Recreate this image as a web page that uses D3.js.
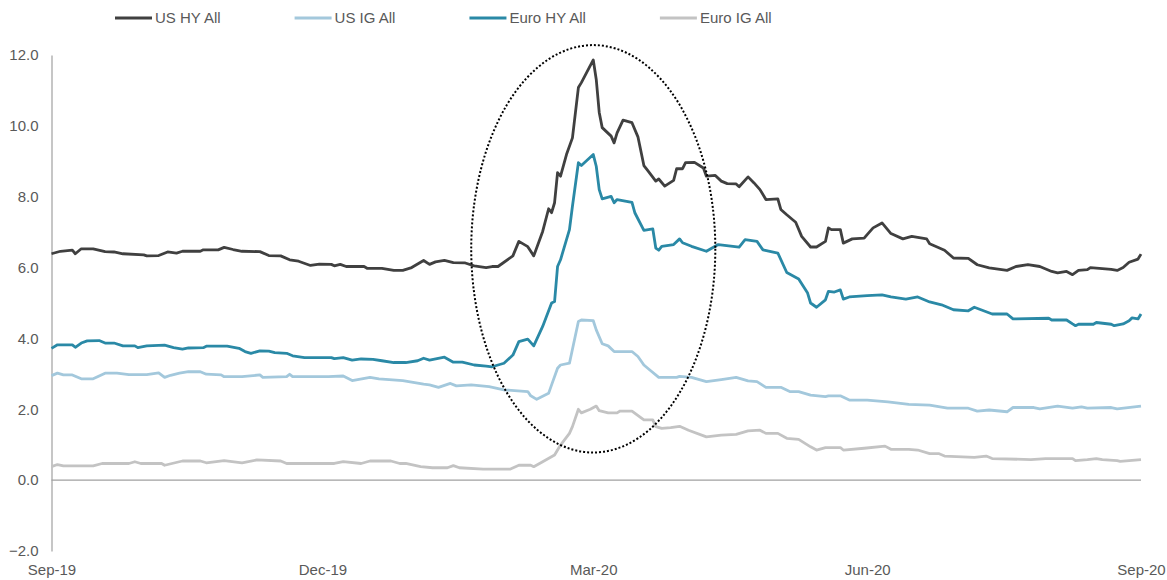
<!DOCTYPE html>
<html>
<head>
<meta charset="utf-8">
<script src="https://cdn.jsdelivr.net/npm/d3@7"></script>
<style>
  body { margin: 0; background: #fff; }
  text { font-family: "Liberation Sans", Arial, sans-serif; }
</style>
</head>
<body>
<div id="spread-vis"></div>
<script>
// spreads (%)
var usHY = [
  ["2019-09-01",6.39],["2019-09-04",6.46],["2019-09-08",6.49],["2019-09-09",6.39],["2019-09-11",6.53],
  ["2019-09-15",6.53],["2019-09-19",6.45],["2019-09-22",6.44],["2019-09-25",6.39],["2019-10-02",6.36],
  ["2019-10-03",6.33],["2019-10-07",6.34],["2019-10-10",6.44],["2019-10-13",6.41],["2019-10-15",6.46],
  ["2019-10-21",6.46],["2019-10-22",6.5],["2019-10-27",6.5],["2019-10-29",6.57],["2019-11-01",6.51],
  ["2019-11-04",6.46],["2019-11-10",6.45],["2019-11-13",6.34],["2019-11-17",6.33],["2019-11-20",6.22],
  ["2019-11-23",6.18],["2019-11-27",6.06],["2019-11-30",6.1],["2019-12-04",6.09],["2019-12-05",6.05],
  ["2019-12-07",6.09],["2019-12-09",6.03],["2019-12-15",6.03],["2019-12-16",5.98],["2019-12-21",5.98],
  ["2019-12-25",5.92],["2019-12-28",5.92],["2019-12-31",6.0],["2020-01-04",6.2],["2020-01-06",6.09],
  ["2020-01-08",6.16],["2020-01-11",6.2],["2020-01-14",6.14],["2020-01-18",6.13],["2020-01-21",6.05],
  ["2020-01-25",6.0],["2020-01-27",6.03],["2020-01-29",6.03],["2020-02-03",6.33],["2020-02-05",6.74],
  ["2020-02-08",6.59],["2020-02-10",6.33],["2020-02-13",7.02],["2020-02-15",7.66],["2020-02-16",7.55],
  ["2020-02-17",7.83],["2020-02-18",8.68],["2020-02-19",8.58],["2020-02-21",9.19],["2020-02-23",9.66],
  ["2020-02-25",11.08],["2020-02-26",11.22],["2020-03-01",11.86],["2020-03-02",11.31],["2020-03-03",10.38],
  ["2020-03-04",9.95],["2020-03-07",9.71],["2020-03-08",9.52],["2020-03-09",9.8],["2020-03-11",10.16],
  ["2020-03-14",10.09],["2020-03-16",9.69],["2020-03-18",8.88],["2020-03-19",8.77],["2020-03-22",8.44],
  ["2020-03-23",8.5],["2020-03-25",8.3],["2020-03-28",8.46],["2020-03-29",8.79],["2020-03-31",8.79],
  ["2020-04-01",8.96],["2020-04-04",8.97],["2020-04-07",8.81],["2020-04-08",8.58],["2020-04-11",8.6],
  ["2020-04-13",8.44],["2020-04-15",8.37],["2020-04-18",8.36],["2020-04-19",8.28],["2020-04-22",8.56],
  ["2020-04-24",8.39],["2020-04-26",8.2],["2020-04-28",7.92],["2020-05-02",7.94],["2020-05-03",7.64],
  ["2020-05-05",7.49],["2020-05-08",7.28],["2020-05-10",6.88],["2020-05-13",6.58],["2020-05-15",6.58],
  ["2020-05-18",6.74],["2020-05-19",7.12],["2020-05-20",7.07],["2020-05-23",7.07],["2020-05-24",6.69],
  ["2020-05-27",6.81],["2020-05-31",6.83],["2020-06-01",6.93],["2020-06-03",7.12],["2020-06-06",7.26],
  ["2020-06-09",6.96],["2020-06-13",6.81],["2020-06-16",6.88],["2020-06-21",6.81],["2020-06-22",6.67],
  ["2020-06-27",6.49],["2020-06-30",6.27],["2020-07-05",6.26],["2020-07-08",6.08],["2020-07-12",5.99],
  ["2020-07-18",5.92],["2020-07-21",6.03],["2020-07-25",6.08],["2020-07-29",6.03],["2020-08-02",5.89],
  ["2020-08-04",5.85],["2020-08-07",5.89],["2020-08-09",5.8],["2020-08-11",5.92],["2020-08-14",5.94],
  ["2020-08-15",6.0],["2020-08-22",5.95],["2020-08-24",5.92],["2020-08-26",6.0],["2020-08-28",6.15],
  ["2020-08-31",6.24],["2020-09-01",6.38]
];

var usIG = [
  ["2019-09-01",2.95],["2019-09-03",3.02],["2019-09-05",2.97],["2019-09-08",2.97],["2019-09-11",2.86],
  ["2019-09-15",2.86],["2019-09-19",3.02],["2019-09-23",3.02],["2019-09-27",2.98],["2019-10-03",2.98],
  ["2019-10-07",3.03],["2019-10-09",2.9],["2019-10-11",2.96],["2019-10-14",3.02],["2019-10-17",3.06],
  ["2019-10-21",3.06],["2019-10-23",2.99],["2019-10-28",2.97],["2019-10-29",2.92],["2019-11-04",2.92],
  ["2019-11-10",2.97],["2019-11-11",2.9],["2019-11-19",2.92],["2019-11-20",2.99],["2019-11-21",2.92],
  ["2019-12-03",2.92],["2019-12-08",2.94],["2019-12-11",2.81],["2019-12-17",2.9],["2019-12-20",2.86],
  ["2019-12-28",2.81],["2020-01-04",2.71],["2020-01-06",2.69],["2020-01-09",2.62],["2020-01-13",2.73],
  ["2020-01-15",2.66],["2020-01-20",2.69],["2020-01-26",2.64],["2020-01-31",2.55],["2020-02-08",2.5],
  ["2020-02-09",2.38],["2020-02-11",2.28],["2020-02-15",2.45],["2020-02-16",2.69],["2020-02-18",3.16],
  ["2020-02-19",3.25],["2020-02-22",3.3],["2020-02-25",4.48],["2020-02-26",4.52],["2020-03-01",4.5],
  ["2020-03-02",4.24],["2020-03-04",3.85],["2020-03-06",3.79],["2020-03-08",3.63],["2020-03-14",3.63],
  ["2020-03-16",3.49],["2020-03-18",3.25],["2020-03-20",3.11],["2020-03-23",2.9],["2020-03-29",2.9],
  ["2020-03-30",2.93],["2020-04-03",2.9],["2020-04-08",2.78],["2020-04-13",2.84],["2020-04-18",2.9],
  ["2020-04-22",2.8],["2020-04-25",2.78],["2020-04-28",2.62],["2020-05-03",2.62],["2020-05-06",2.5],
  ["2020-05-09",2.5],["2020-05-13",2.4],["2020-05-18",2.36],["2020-05-19",2.38],["2020-05-23",2.38],
  ["2020-05-26",2.26],["2020-06-01",2.26],["2020-06-08",2.21],["2020-06-15",2.14],["2020-06-22",2.12],
  ["2020-06-28",2.03],["2020-07-05",2.03],["2020-07-08",1.95],["2020-07-12",1.98],["2020-07-18",1.93],
  ["2020-07-20",2.05],["2020-07-27",2.05],["2020-07-29",2.01],["2020-08-04",2.09],["2020-08-09",2.03],
  ["2020-08-12",2.07],["2020-08-14",2.03],["2020-08-22",2.05],["2020-08-24",2.01],["2020-09-01",2.09]
];

var euroHY = [
  ["2019-09-01",3.72],["2019-09-03",3.82],["2019-09-08",3.82],["2019-09-09",3.75],["2019-09-11",3.87],
  ["2019-09-13",3.93],["2019-09-17",3.94],["2019-09-19",3.87],["2019-09-22",3.87],["2019-09-25",3.79],
  ["2019-09-29",3.79],["2019-09-30",3.74],["2019-10-03",3.79],["2019-10-09",3.81],["2019-10-12",3.74],
  ["2019-10-15",3.7],["2019-10-17",3.73],["2019-10-22",3.74],["2019-10-23",3.78],["2019-10-30",3.78],
  ["2019-11-03",3.72],["2019-11-05",3.63],["2019-11-07",3.58],["2019-11-10",3.65],["2019-11-13",3.64],
  ["2019-11-15",3.6],["2019-11-19",3.58],["2019-11-21",3.51],["2019-11-25",3.46],["2019-12-04",3.46],
  ["2019-12-05",3.43],["2019-12-08",3.46],["2019-12-11",3.39],["2019-12-14",3.42],["2019-12-18",3.41],
  ["2019-12-21",3.37],["2019-12-25",3.32],["2019-12-29",3.32],["2020-01-02",3.37],["2020-01-04",3.44],
  ["2020-01-06",3.39],["2020-01-11",3.47],["2020-01-14",3.33],["2020-01-17",3.33],["2020-01-21",3.25],
  ["2020-01-25",3.22],["2020-01-27",3.2],["2020-01-31",3.3],["2020-02-03",3.53],["2020-02-05",3.91],
  ["2020-02-08",3.98],["2020-02-10",3.79],["2020-02-13",4.34],["2020-02-16",5.0],["2020-02-17",5.04],
  ["2020-02-18",6.03],["2020-02-19",6.22],["2020-02-22",7.07],["2020-02-23",7.73],["2020-02-25",8.96],
  ["2020-02-26",8.88],["2020-03-01",9.19],["2020-03-02",8.86],["2020-03-03",8.2],["2020-03-04",7.94],
  ["2020-03-07",8.01],["2020-03-08",7.83],["2020-03-09",7.92],["2020-03-14",7.84],["2020-03-15",7.54],
  ["2020-03-18",7.05],["2020-03-21",7.09],["2020-03-22",6.55],["2020-03-23",6.49],["2020-03-24",6.6],
  ["2020-03-28",6.65],["2020-03-30",6.81],["2020-03-31",6.7],["2020-04-03",6.6],["2020-04-08",6.46],
  ["2020-04-12",6.65],["2020-04-19",6.58],["2020-04-21",6.79],["2020-04-25",6.74],["2020-04-27",6.5],
  ["2020-05-02",6.41],["2020-05-05",5.86],["2020-05-09",5.68],["2020-05-12",5.28],["2020-05-13",5.0],
  ["2020-05-15",4.88],["2020-05-18",5.09],["2020-05-19",5.33],["2020-05-21",5.31],["2020-05-23",5.37],
  ["2020-05-24",5.11],["2020-05-26",5.17],["2020-06-01",5.21],["2020-06-06",5.23],["2020-06-09",5.17],
  ["2020-06-14",5.11],["2020-06-18",5.17],["2020-06-22",5.03],["2020-06-26",4.95],["2020-06-30",4.81],
  ["2020-07-05",4.78],["2020-07-07",4.88],["2020-07-13",4.69],["2020-07-18",4.69],["2020-07-20",4.55],
  ["2020-08-01",4.57],["2020-08-02",4.52],["2020-08-07",4.52],["2020-08-09",4.41],["2020-08-10",4.36],
  ["2020-08-11",4.4],["2020-08-16",4.4],["2020-08-17",4.45],["2020-08-22",4.4],["2020-08-23",4.36],
  ["2020-08-26",4.41],["2020-08-28",4.5],["2020-08-29",4.58],["2020-08-31",4.55],["2020-09-01",4.69]
];

var euroIG = [
  ["2019-09-01",0.38],["2019-09-03",0.44],["2019-09-05",0.4],["2019-09-15",0.4],["2019-09-18",0.47],
  ["2019-09-27",0.47],["2019-09-29",0.52],["2019-10-01",0.47],["2019-10-08",0.47],["2019-10-09",0.42],
  ["2019-10-15",0.54],["2019-10-21",0.54],["2019-10-23",0.49],["2019-10-29",0.55],["2019-11-04",0.49],
  ["2019-11-09",0.57],["2019-11-17",0.54],["2019-11-19",0.47],["2019-12-05",0.47],["2019-12-08",0.52],
  ["2019-12-14",0.47],["2019-12-17",0.54],["2019-12-24",0.54],["2019-12-27",0.47],["2019-12-29",0.47],
  ["2020-01-03",0.38],["2020-01-07",0.35],["2020-01-12",0.35],["2020-01-14",0.41],["2020-01-16",0.35],
  ["2020-01-24",0.31],["2020-02-02",0.31],["2020-02-05",0.42],["2020-02-09",0.42],["2020-02-10",0.38],
  ["2020-02-13",0.52],["2020-02-17",0.71],["2020-02-19",0.99],["2020-02-22",1.32],["2020-02-23",1.51],
  ["2020-02-25",2.0],["2020-02-26",1.9],["2020-02-29",2.0],["2020-03-02",2.09],["2020-03-03",1.96],
  ["2020-03-06",1.9],["2020-03-09",1.9],["2020-03-10",1.95],["2020-03-14",1.95],["2020-03-18",1.7],
  ["2020-03-21",1.7],["2020-03-22",1.51],["2020-03-24",1.46],["2020-03-27",1.48],["2020-03-30",1.52],
  ["2020-04-02",1.41],["2020-04-08",1.22],["2020-04-13",1.27],["2020-04-18",1.29],["2020-04-22",1.39],
  ["2020-04-26",1.41],["2020-04-28",1.32],["2020-05-02",1.32],["2020-05-05",1.18],["2020-05-09",1.15],
  ["2020-05-13",0.94],["2020-05-15",0.85],["2020-05-18",0.92],["2020-05-23",0.92],["2020-05-24",0.85],
  ["2020-05-31",0.9],["2020-06-07",0.96],["2020-06-09",0.87],["2020-06-15",0.87],["2020-06-18",0.85],
  ["2020-06-22",0.75],["2020-06-25",0.75],["2020-06-27",0.68],["2020-07-07",0.64],["2020-07-11",0.68],
  ["2020-07-13",0.61],["2020-07-26",0.58],["2020-07-31",0.61],["2020-08-09",0.61],["2020-08-10",0.55],
  ["2020-08-14",0.58],["2020-08-17",0.61],["2020-08-19",0.58],["2020-08-24",0.55],["2020-08-25",0.53],
  ["2020-08-28",0.55],["2020-09-01",0.58]
];

var seriesNames = ["US HY All", "US IG All", "Euro HY All", "Euro IG All"];
var seriesColors = ["#404040", "#a3c8dc", "#2a89a6", "#c3c3c3"];
var yTicks = [-2, 0, 2, 4, 6, 8, 10, 12];
var xTicks = ["2019-09-01", "2019-12-01", "2020-03-01", "2020-06-01", "2020-09-01"];

// dotted ellipse round the covid spike: [left date, right date, low value, high value]
var spikeBox = ["2020-01-20", "2020-04-11", 0.78, 12.28];

SpreadVis = function(_parentElement, _series) {
  this.parentElement = _parentElement;
  this.series = _series;
  this.wrangleData();
  this.initVis();
};

SpreadVis.prototype.wrangleData = function() {
  var vis = this;
  var parse = d3.timeParse("%Y-%m-%d");
  vis.lines = vis.series.map((s, i) => {
    return {
      name: seriesNames[i],
      color: seriesColors[i],
      values: s.map((d) => { return {date: parse(d[0]), value: +d[1]}; })
    };
  });
  vis.xTickDates = xTicks.map(parse);
  vis.box = [parse(spikeBox[0]), parse(spikeBox[1]), spikeBox[2], spikeBox[3]];
};

SpreadVis.prototype.initVis = function() {
  var vis = this;

  vis.width = 1167;
  vis.height = 580;
  vis.svg = d3.select("#" + vis.parentElement).append("svg")
    .attr("width", vis.width)
    .attr("height", vis.height);

  var parse = d3.timeParse("%Y-%m-%d");
  vis.xScale = d3.scaleTime()
    .domain([parse("2019-09-01"), parse("2020-09-01")])
    .range([51.5, 1141]);

  vis.yScale = d3.scaleLinear()
    .domain([-2, 12])
    .range([551, 55]);

  var labelColor = "#595959";
  var axisColor = "#a0a0a0";

  // y axis: just the line and the labels
  vis.yAxis = d3.axisLeft(vis.yScale)
    .tickValues(yTicks)
    .tickSize(0)
    .tickPadding(13)
    .tickFormat(d3.format(".1f"));

  var gy = vis.svg.append("g")
    .attr("class", "y-axis axis")
    .attr("transform", "translate(" + vis.xScale.range()[0] + ",0)")
    .call(vis.yAxis);
  gy.select(".domain").attr("stroke", axisColor).attr("stroke-width", 1.2);
  gy.selectAll("text")
    .attr("fill", labelColor)
    .style("font-size", "15px")
    .style("font-family", "'Liberation Sans', Arial, sans-serif");

  // zero line
  vis.svg.append("line")
    .attr("x1", vis.xScale.range()[0])
    .attr("x2", vis.xScale.range()[1])
    .attr("y1", vis.yScale(0))
    .attr("y2", vis.yScale(0))
    .attr("stroke", axisColor)
    .attr("stroke-width", 1.2);

  // x labels sit below the plot, no ticks
  vis.xAxis = d3.axisBottom(vis.xScale)
    .tickValues(vis.xTickDates)
    .tickSize(0)
    .tickPadding(13)
    .tickFormat(d3.timeFormat("%b-%y"));

  var gx = vis.svg.append("g")
    .attr("class", "x-axis axis")
    .attr("transform", "translate(0," + vis.yScale(-2) + ")")
    .call(vis.xAxis);
  gx.select(".domain").remove();
  gx.selectAll("text")
    .attr("fill", labelColor)
    .style("font-size", "15px")
    .style("font-family", "'Liberation Sans', Arial, sans-serif");

  vis.line = d3.line()
    .x((d) => { return vis.xScale(d.date); })
    .y((d) => { return vis.yScale(d.value); });

  // draw back to front so the dark HY line ends up on top
  var order = [3, 1, 2, 0];
  order.forEach((i) => {
    var s = vis.lines[i];
    vis.svg.append("path")
      .datum(s.values)
      .attr("class", "spread-line")
      .attr("fill", "none")
      .attr("stroke", s.color)
      .attr("stroke-width", 2.8)
      .attr("stroke-linejoin", "round")
      .attr("d", vis.line);
  });

  // dotted ellipse
  var x0 = vis.xScale(vis.box[0]), x1 = vis.xScale(vis.box[1]);
  var y0 = vis.yScale(vis.box[3]), y1 = vis.yScale(vis.box[2]);
  vis.svg.append("ellipse")
    .attr("cx", (x0 + x1) / 2)
    .attr("cy", (y0 + y1) / 2)
    .attr("rx", (x1 - x0) / 2)
    .attr("ry", (y1 - y0) / 2)
    .attr("fill", "none")
    .attr("stroke", "#000")
    .attr("stroke-width", 2)
    .attr("stroke-dasharray", "2,2");

  vis.drawLegend();
};

SpreadVis.prototype.drawLegend = function() {
  var vis = this;
  var legend = vis.svg.append("g").attr("class", "legend");
  var xPos = 115;
  var yPos = 18;
  vis.lines.forEach((s) => {
    legend.append("line")
      .attr("x1", xPos)
      .attr("x2", xPos + 37)
      .attr("y1", yPos)
      .attr("y2", yPos)
      .attr("stroke", s.color)
      .attr("stroke-width", 3);
    var t = legend.append("text")
      .attr("x", xPos + 40)
      .attr("y", yPos)
      .attr("dy", "0.35em")
      .attr("fill", "#595959")
      .style("font-size", "15px")
      .text(s.name);
    xPos = xPos + 40 + t.node().getComputedTextLength() + 74;
  });
};

var spreadVis = new SpreadVis("spread-vis", [usHY, usIG, euroHY, euroIG]);
</script>
</body>
</html>
